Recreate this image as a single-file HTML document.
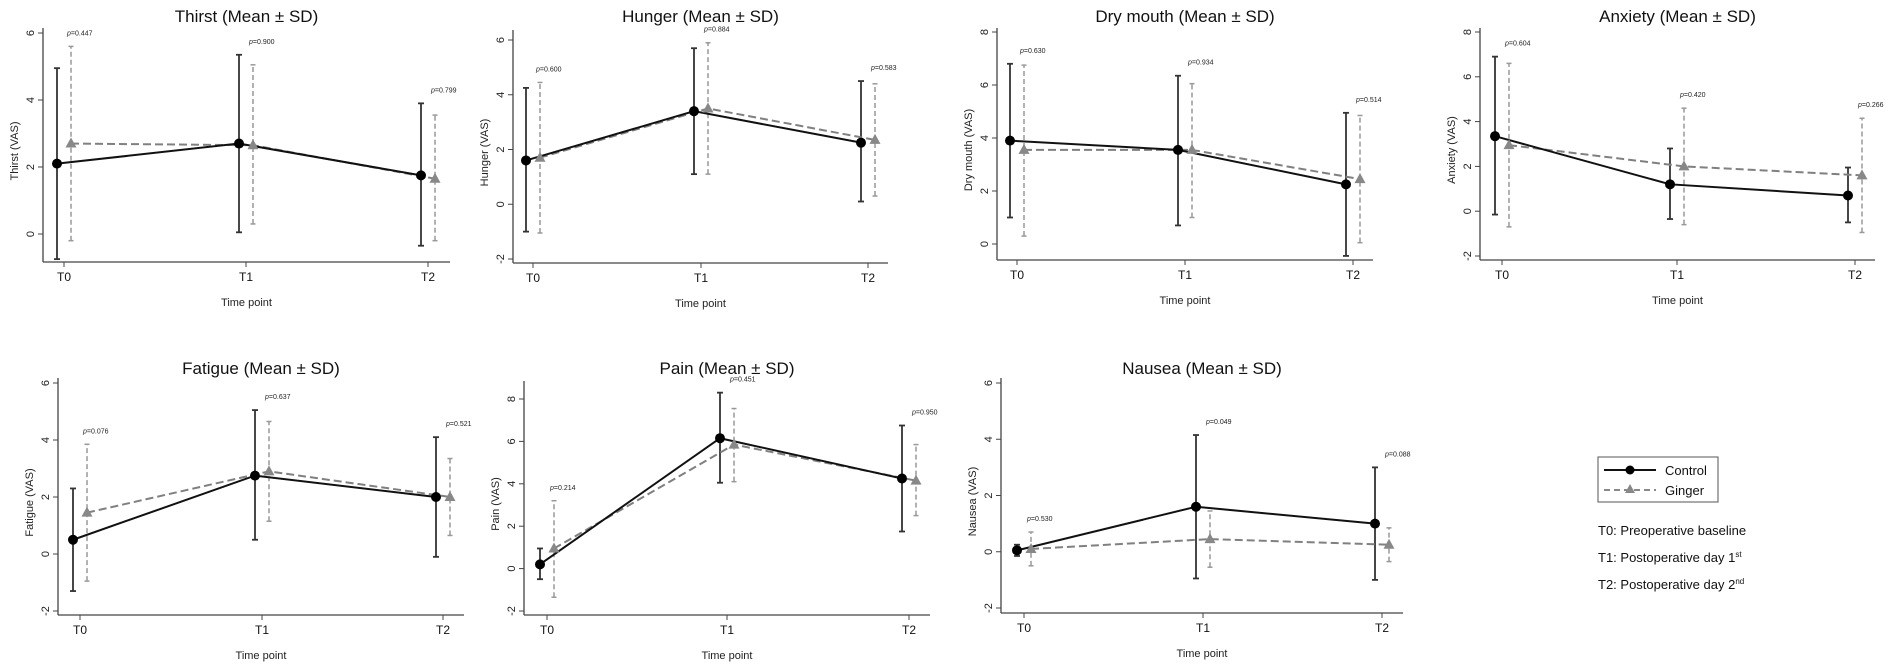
<!DOCTYPE html>
<html><head><meta charset="utf-8">
<style>
html,body{margin:0;padding:0;background:#fff;}
svg{display:block;font-family:"Liberation Sans",Arial,sans-serif;}
</style></head>
<body>
<svg id="fig" width="1902" height="668" viewBox="0 0 1902 668" xmlns="http://www.w3.org/2000/svg"></svg>
<script>
// ---- data (mean, lower SD, upper SD) at T0,T1,T2 ----
const timePoints = ["T0","T1","T2"];
const thirstCtrl = [2.1, 2.7, 1.75];   const thirstCtrlLo = [-0.75, 0.05, -0.35]; const thirstCtrlHi = [4.95, 5.35, 3.9];
const thirstGin  = [2.7, 2.65, 1.65];  const thirstGinLo  = [-0.2, 0.3, -0.2];    const thirstGinHi  = [5.6, 5.05, 3.55];
const thirstP = ["0.447","0.900","0.799"];
const hungerCtrl = [1.6, 3.4, 2.25];   const hungerCtrlLo = [-1.0, 1.1, 0.1];     const hungerCtrlHi = [4.25, 5.7, 4.5];
const hungerGin  = [1.7, 3.5, 2.35];   const hungerGinLo  = [-1.05, 1.1, 0.3];    const hungerGinHi  = [4.45, 5.9, 4.4];
const hungerP = ["0.600","0.884","0.583"];
const dryCtrl = [3.9, 3.55, 2.25];     const dryCtrlLo = [1.0, 0.7, -0.45];       const dryCtrlHi = [6.8, 6.35, 4.95];
const dryGin  = [3.55, 3.55, 2.45];    const dryGinLo  = [0.3, 1.0, 0.05];        const dryGinHi  = [6.75, 6.05, 4.85];
const dryP = ["0.630","0.934","0.514"];
const anxCtrl = [3.35, 1.2, 0.7];      const anxCtrlLo = [-0.15, -0.35, -0.5];    const anxCtrlHi = [6.9, 2.8, 1.95];
const anxGin  = [2.95, 2.0, 1.6];      const anxGinLo  = [-0.7, -0.6, -0.95];     const anxGinHi  = [6.6, 4.6, 4.15];
const anxP = ["0.604","0.420","0.266"];
const fatCtrl = [0.5, 2.75, 2.0];      const fatCtrlLo = [-1.3, 0.5, -0.1];       const fatCtrlHi = [2.3, 5.05, 4.1];
const fatGin  = [1.45, 2.9, 2.0];      const fatGinLo  = [-0.95, 1.15, 0.65];     const fatGinHi  = [3.85, 4.65, 3.35];
const fatP = ["0.076","0.637","0.521"];
const painCtrl = [0.2, 6.15, 4.25];    const painCtrlLo = [-0.5, 4.05, 1.75];     const painCtrlHi = [0.95, 8.3, 6.75];
const painGin  = [0.95, 5.85, 4.15];   const painGinLo  = [-1.35, 4.1, 2.5];      const painGinHi  = [3.2, 7.55, 5.85];
const painP = ["0.214","0.451","0.950"];
const nauCtrl = [0.05, 1.6, 1.0];      const nauCtrlLo = [-0.15, -0.95, -1.0];    const nauCtrlHi = [0.25, 4.15, 3.0];
const nauGin  = [0.1, 0.45, 0.25];     const nauGinLo  = [-0.5, -0.55, -0.35];    const nauGinHi  = [0.7, 1.45, 0.85];
const nauP = ["0.530","0.049","0.088"];
const ticks6 = [0,2,4,6];
const ticksM6 = [-2,0,2,4,6];
const ticks8 = [0,2,4,6,8];
const ticksM8 = [-2,0,2,4,6,8];

// ---- layout ----
const panels = [
 {id:"thirst",title:"Thirst (Mean ± SD)",ylab:"Thirst (VAS)",c:thirstCtrl,cl:thirstCtrlLo,ch:thirstCtrlHi,g:thirstGin,gl:thirstGinLo,gh:thirstGinHi,p:thirstP,ticks:ticks6,
  ax:43,ay:262,ax2:450,v0:0,py0:234,v1:6,py1:33,tx:[64,246,428],top:28,ty:22},
 {id:"hunger",title:"Hunger (Mean ± SD)",ylab:"Hunger (VAS)",c:hungerCtrl,cl:hungerCtrlLo,ch:hungerCtrlHi,g:hungerGin,gl:hungerGinLo,gh:hungerGinHi,p:hungerP,ticks:ticksM6,
  ax:513,ay:263,ax2:888,v0:-2,py0:259,v1:6,py1:40,tx:[533,701,868],top:30,ty:22},
 {id:"dry-mouth",title:"Dry mouth (Mean ± SD)",ylab:"Dry mouth (VAS)",c:dryCtrl,cl:dryCtrlLo,ch:dryCtrlHi,g:dryGin,gl:dryGinLo,gh:dryGinHi,p:dryP,ticks:ticks8,
  ax:997,ay:260,ax2:1373,v0:0,py0:244,v1:8,py1:32,tx:[1017,1185,1353],top:28,ty:22},
 {id:"anxiety",title:"Anxiety (Mean ± SD)",ylab:"Anxiety (VAS)",c:anxCtrl,cl:anxCtrlLo,ch:anxCtrlHi,g:anxGin,gl:anxGinLo,gh:anxGinHi,p:anxP,ticks:ticksM8,
  ax:1480,ay:260,ax2:1875,v0:-2,py0:256,v1:8,py1:32,tx:[1502,1677,1855],top:28,ty:22},
 {id:"fatigue",title:"Fatigue (Mean ± SD)",ylab:"Fatigue (VAS)",c:fatCtrl,cl:fatCtrlLo,ch:fatCtrlHi,g:fatGin,gl:fatGinLo,gh:fatGinHi,p:fatP,ticks:ticksM6,
  ax:58,ay:615,ax2:464,v0:-2,py0:611,v1:6,py1:383,tx:[80,262,443],top:378,ty:374},
 {id:"pain",title:"Pain (Mean ± SD)",ylab:"Pain (VAS)",c:painCtrl,cl:painCtrlLo,ch:painCtrlHi,g:painGin,gl:painGinLo,gh:painGinHi,p:painP,ticks:ticksM8,
  ax:524,ay:615,ax2:930,v0:-2,py0:611,v1:8,py1:399,tx:[547,727,909],top:381,ty:374},
 {id:"nausea",title:"Nausea (Mean ± SD)",ylab:"Nausea (VAS)",c:nauCtrl,cl:nauCtrlLo,ch:nauCtrlHi,g:nauGin,gl:nauGinLo,gh:nauGinHi,p:nauP,ticks:ticksM6,
  ax:1001,ay:613,ax2:1403,v0:-2,py0:608,v1:6,py1:383,tx:[1024,1203,1382],top:378,ty:374}
];
const NS="http://www.w3.org/2000/svg";
const svg=document.getElementById("fig");
function mk(tag,attrs,parent,text){const e=document.createElementNS(NS,tag);for(const k in attrs)e.setAttribute(k,attrs[k]);if(text!==undefined)e.textContent=text;parent.appendChild(e);return e;}

panels.forEach(P=>{
  const g=mk("g",{},svg);
  
  
  const y=v=>P.py0+(v-P.v0)*(P.py1-P.py0)/(P.v1-P.v0);
  const xc=i=>P.tx[i]-7, xg=i=>P.tx[i]+7;
  const midX=(P.ax+P.ax2)/2;
  const t=mk("text",{x:midX,y:P.ty,"text-anchor":"middle","font-size":"17",fill:"#111"},g,P.title);
  
  
  // axes
  const ya=mk("line",{x1:P.ax,y1:P.top,x2:P.ax,y2:P.ay,stroke:"#444","stroke-width":1.3},g);
  
  
  const xa=mk("line",{x1:P.ax,y1:P.ay,x2:P.ax2,y2:P.ay,stroke:"#444","stroke-width":1.3},g);
  
  
  P.ticks.forEach(v=>{
    mk("line",{x1:P.ax-5,y1:y(v),x2:P.ax,y2:y(v),stroke:"#444","stroke-width":1},g);
    const tl=mk("text",{x:0,y:0,transform:`translate(${P.ax-9},${y(v)}) rotate(-90)`,"text-anchor":"middle","font-size":"11",fill:"#222"},g,String(v));
    
    
  });
  timePoints.forEach((lab,i)=>{
    mk("line",{x1:P.tx[i],y1:P.ay,x2:P.tx[i],y2:P.ay+5,stroke:"#444","stroke-width":1},g);
    const tl=mk("text",{x:P.tx[i],y:P.ay+19,"text-anchor":"middle","font-size":"12",fill:"#111"},g,lab);
    
    
  });
  const yl=mk("text",{x:0,y:0,transform:`translate(${P.ax-25},${(P.top+P.ay)/2+6}) rotate(-90)`,"text-anchor":"middle","font-size":"11",fill:"#222"},g,P.ylab);
  
  
  const xl=mk("text",{x:midX,y:P.ay+44,"text-anchor":"middle","font-size":"11",fill:"#222"},g,"Time point");
  
  
  // error bars
  for(let i=0;i<3;i++){
    const cx=xc(i), gx=xg(i);
    const eb=mk("g",{stroke:"#333","stroke-width":1.8},g);
    
    
    mk("line",{x1:cx,y1:y(P.cl[i]),x2:cx,y2:y(P.ch[i])},eb);
    mk("line",{x1:cx-3,y1:y(P.cl[i]),x2:cx+3,y2:y(P.cl[i])},eb);
    mk("line",{x1:cx-3,y1:y(P.ch[i]),x2:cx+3,y2:y(P.ch[i])},eb);
    const gb=mk("g",{stroke:"#999","stroke-width":1.5},g);
    
    
    mk("line",{x1:gx,y1:y(P.gl[i]),x2:gx,y2:y(P.gh[i]),"stroke-dasharray":"5,3"},gb);
    mk("line",{x1:gx-2.5,y1:y(P.gl[i]),x2:gx+2.5,y2:y(P.gl[i])},gb);
    mk("line",{x1:gx-2.5,y1:y(P.gh[i]),x2:gx+2.5,y2:y(P.gh[i])},gb);
    const pt=Math.min(y(P.ch[i]),y(P.gh[i]))-11;
    const pl=mk("text",{x:gx-4,y:pt,"font-size":"7",fill:"#222"},g);
    
    
    mk("tspan",{"font-style":"italic"},pl,"p");
    mk("tspan",{},pl,"="+P.p[i]);
  }
  // lines
  const gl=mk("polyline",{points:P.g.map((v,i)=>xg(i)+","+y(v)).join(" "),fill:"none",stroke:"#808080","stroke-width":2,"stroke-dasharray":"8,4"},g);
  
  
  const cl=mk("polyline",{points:P.c.map((v,i)=>xc(i)+","+y(v)).join(" "),fill:"none",stroke:"#111","stroke-width":2},g);
  
  
  P.g.forEach((v,i)=>{
    const X=xg(i),Y=y(v);
    const tr=mk("polygon",{points:`${X},${Y-6} ${X-5.5},${Y+4} ${X+5.5},${Y+4}`,fill:"#888"},g);
    
    
  });
  P.c.forEach((v,i)=>{
    const c=mk("circle",{cx:xc(i),cy:y(v),r:5,fill:"#000"},g);
    
    
  });
});
</script>
<svg style="position:absolute;left:0;top:0" width="1902" height="668">
  <g font-family="Liberation Sans, Arial, sans-serif">
    <rect x="1598" y="457" width="120" height="45" fill="#fff" stroke="#555" stroke-width="1"/>
    <g>
      <line x1="1604" y1="470" x2="1656" y2="470" stroke="#111" stroke-width="2"/>
      <circle cx="1630" cy="470" r="4.5" fill="#000"/>
      <text x="1665" y="475" font-size="13" fill="#111">Control</text>
    </g>
    <g>
      <line x1="1604" y1="490" x2="1656" y2="490" stroke="#888" stroke-width="2" stroke-dasharray="6,4"/>
      <polygon points="1630,484 1625,493 1635,493" fill="#888"/>
      <text x="1665" y="495" font-size="13" fill="#111">Ginger</text>
    </g>
    <text x="1598" y="535" font-size="13" fill="#111">T0: Preoperative baseline</text>
    <text x="1598" y="562" font-size="13" fill="#111">T1: Postoperative day 1<tspan font-size="8" dy="-5">st</tspan></text>
    <text x="1598" y="589" font-size="13" fill="#111">T2: Postoperative day 2<tspan font-size="8" dy="-5">nd</tspan></text>
  </g>
</svg>
</body></html>
